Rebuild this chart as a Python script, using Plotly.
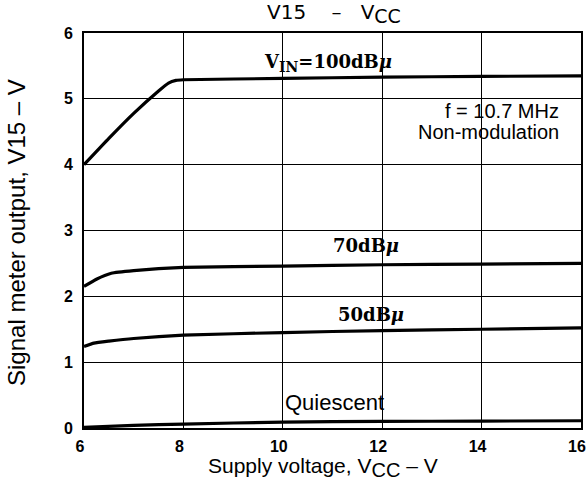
import plotly.graph_objects as go

# Supply voltage sweep points (V) and signal-meter output V15 (V) per input level
vcc_100 = [6.0, 6.5, 7.0, 7.5, 7.7, 7.85, 8.0, 10.0, 12.0, 14.0, 16.0]
v15_100 = [4.0, 4.40, 4.78, 5.12, 5.24, 5.28, 5.29, 5.31, 5.33, 5.34, 5.35]

vcc_70 = [6.0, 6.25, 6.55, 7.0, 8.0, 10.0, 12.0, 14.0, 16.0]
v15_70 = [2.15, 2.26, 2.35, 2.39, 2.44, 2.46, 2.48, 2.49, 2.50]

vcc_50 = [6.0, 6.2, 6.5, 7.0, 8.0, 10.0, 12.0, 14.0, 16.0]
v15_50 = [1.24, 1.29, 1.32, 1.36, 1.41, 1.45, 1.48, 1.50, 1.52]

vcc_q = [6.0, 7.0, 8.0, 10.0, 12.0, 14.0, 16.0]
v15_q = [0.01, 0.04, 0.06, 0.09, 0.10, 0.105, 0.11]

x_ticks = [6, 8, 10, 12, 14, 16]
y_ticks = [0, 1, 2, 3, 4, 5, 6]

fig = go.Figure()
for xs, ys in [(vcc_100, v15_100), (vcc_70, v15_70), (vcc_50, v15_50), (vcc_q, v15_q)]:
    fig.add_trace(go.Scatter(x=xs, y=ys, mode="lines",
                             line=dict(color="black", width=3.2, shape="spline", smoothing=0.4),
                             showlegend=False, hoverinfo="skip"))

serif = dict(family="DejaVu Serif, Liberation Serif, serif", size=18, color="black")
sans = dict(family="Liberation Sans, Arial, sans-serif", size=20, color="black")
big_sub = '<sub><span style="font-size:{}px">{}</span></sub>'

# Curve labels and test conditions, in data coordinates
annotations = [
    dict(x=10.9, y=5.54, text="<b>V" + big_sub.format(14, "IN") + "=100dB<i>μ</i></b>",
         font=serif, xanchor="center"),
    dict(x=11.68, y=2.77, text="<b>70dB<i>μ</i></b>", font=serif, xanchor="center"),
    dict(x=11.78, y=1.73, text="<b>50dB<i>μ</i></b>", font=serif, xanchor="center"),
    dict(x=11.05, y=0.39, text="Quiescent", font=dict(sans, size=22), xanchor="center"),
    dict(x=15.6, y=4.81, text="f = 10.7 MHz", font=sans, xanchor="right"),
    dict(x=15.6, y=4.50, text="Non-modulation", font=sans, xanchor="right"),
]
for a in annotations:
    fig.add_annotation(xref="x", yref="y", showarrow=False, yanchor="middle", **a)

# Chart title and axis titles, placed relative to the plotting area
fig.add_annotation(xref="paper", yref="paper", x=0.503, y=1.05, showarrow=False,
                   xanchor="center", yanchor="middle",
                   text="V15    –   V" + big_sub.format(19, "CC"),
                   font=dict(family="DejaVu Sans, Verdana, sans-serif", size=20, color="black"))
fig.add_annotation(xref="paper", yref="paper", x=0.481, y=-0.099, showarrow=False,
                   xanchor="center", yanchor="middle",
                   text="Supply voltage, V" + big_sub.format(20, "CC") + " – V",
                   font=dict(sans, size=21))
fig.add_annotation(xref="paper", yref="paper", x=-0.137, y=0.496, showarrow=False,
                   xanchor="center", yanchor="middle", textangle=-90,
                   text="Signal meter output, V15 – V", font=dict(sans, size=24))

tickfont = dict(family="Liberation Sans, Arial, sans-serif", size=16, color="black")

fig.update_layout(
    width=587, height=480,
    margin=dict(l=84, r=6, t=33, b=52, autoexpand=False),
    paper_bgcolor="white", plot_bgcolor="white",
    xaxis=dict(range=[6, 16], tickvals=x_ticks, ticktext=[f"<b>{v}</b>" for v in x_ticks],
               showgrid=True, gridcolor="black", gridwidth=1.3,
               showline=True, linecolor="black", linewidth=2, mirror=True,
               ticks="", zeroline=False, automargin=False, tickfont=tickfont,
               ticklabeloverflow="allow", ticklabelshift=-4, ticklabelstandoff=3),
    yaxis=dict(range=[0, 6], tickvals=y_ticks, ticktext=[f"<b>{v}</b>" for v in y_ticks],
               showgrid=True, gridcolor="black", gridwidth=1.3,
               showline=True, linecolor="black", linewidth=2, mirror=True,
               ticks="", zeroline=False, automargin=False, tickfont=tickfont,
               ticklabeloverflow="allow", ticklabelstandoff=6),
)

fig.write_html("out.html")
